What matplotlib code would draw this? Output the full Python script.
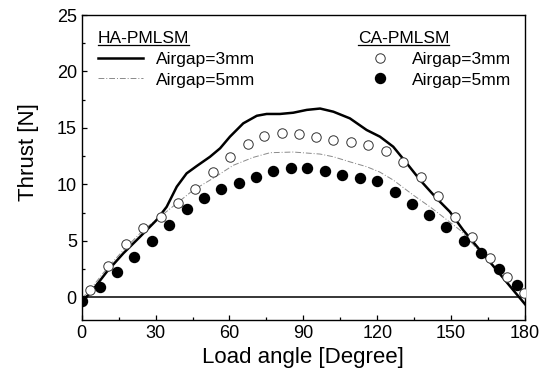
import matplotlib
matplotlib.use('Agg')
import matplotlib.pyplot as plt
from matplotlib.lines import Line2D

plt.rcParams['font.family'] = ['Liberation Sans', 'DejaVu Sans']

# HA-PMLSM, airgap 3 mm (solid line)
ha3_x = [0, 3.4, 10.2, 16.9, 23.7, 30.4, 34.5, 38.6, 42.6, 46.7, 52.1, 56.2, 60.2, 65.6, 71.1,
         75.1, 80.5, 85.9, 91.4, 96.8, 102.2, 108.9, 115.7, 121.1, 126.5, 132.0, 137.4, 144.1,
         149.5, 154.9, 161.7, 168.5, 175.2, 180]
ha3_y = [-0.3, 0.35, 2.27, 3.9, 5.37, 6.85, 8.02, 9.8, 10.98, 11.63, 12.45, 13.2, 14.23, 15.41, 16.08,
         16.24, 16.24, 16.35, 16.6, 16.72, 16.44, 15.85, 14.82, 14.23, 13.34, 11.87, 10.39, 8.77,
         7.58, 5.96, 4.19, 2.42, 0.65, -0.6]

# HA-PMLSM, airgap 5 mm (thin dash-dot)
ha5_x = [0, 3.1, 10, 17, 25, 31.8, 38.6, 45.3, 53.4, 61.6, 69.7, 76.5, 85.9, 96.8, 102.2, 108.9,
         115.7, 121, 126.5, 134.6, 141.4, 147.5, 153.6, 161.7, 168, 174, 180]
ha5_y = [-0.1, 0.6, 2.5, 4.2, 5.96, 7.14, 8.32, 9.5, 10.55, 11.7, 12.4, 12.81, 12.87, 12.69, 12.45, 12.0,
         11.57, 11.1, 10.39, 9.06, 8.02, 7.0, 5.96, 4.04, 2.5, 0.9, -0.5]

# CA-PMLSM, airgap 3 mm (open circles)
ca3_x = [3.4, 10.6, 17.9, 24.8, 32.1, 39.0, 46.0, 53.2, 60.2, 67.4, 74.1, 81.2, 88.2, 95.1,
         102.2, 109.2, 116.4, 123.6, 130.6, 137.6, 144.5, 151.6, 158.6, 165.8, 172.8, 179.6]
ca3_y = [0.65, 2.8, 4.72, 6.11, 7.14, 8.32, 9.57, 11.07, 12.45, 13.55, 14.29, 14.58, 14.46, 14.18,
         13.93, 13.73, 13.46, 12.96, 12.01, 10.68, 8.97, 7.09, 5.31, 3.45, 1.77, 0.4]

# CA-PMLSM, airgap 5 mm (filled circles)
ca5_x = [0, 7.4, 14.5, 21.4, 28.4, 35.4, 42.6, 49.7, 56.7, 63.7, 70.8, 77.8, 84.9, 91.6,
         98.8, 105.8, 113.0, 120.0, 127.2, 134.2, 141.1, 147.9, 155.2, 162.1, 169.4, 176.6]
ca5_y = [-0.3, 0.94, 2.27, 3.6, 4.99, 6.4, 7.79, 8.77, 9.59, 10.15, 10.68, 11.21, 11.48, 11.5,
         11.19, 10.81, 10.59, 10.3, 9.35, 8.26, 7.29, 6.25, 5.01, 3.9, 2.51, 1.09]

fig = plt.figure(figsize=(5.49, 3.83), dpi=100)
ax = fig.add_axes([0.1488, 0.1645, 0.8075, 0.7963])

ax.axhline(0, color='black', lw=1.1, zorder=1)
l1, = ax.plot(ha3_x, ha3_y, color='black', lw=1.8, label='Airgap=3mm', zorder=3)
l2, = ax.plot(ha5_x, ha5_y, color='#8a8a8a', lw=0.7, ls=(0, (6, 2, 1, 2)), label='Airgap=5mm', zorder=2)
m1, = ax.plot(ca3_x, ca3_y, 'o', ms=6.8, mfc='white', mec='#333333', mew=0.7,
              label='Airgap=3mm', zorder=4)
m2, = ax.plot(ca5_x, ca5_y, 'o', ms=7.2, mfc='black', mec='black', label='Airgap=5mm', zorder=5)

ax.set_xlim(0, 180)
ax.set_ylim(-2, 25)
ax.set_xticks(range(0, 181, 30))
ax.set_xticks(range(15, 180, 30), minor=True)
ax.set_yticks(range(0, 26, 5))
ax.set_yticks([2.5, 7.5, 12.5, 17.5, 22.5], minor=True)
ax.tick_params(which='both', direction='in', labelsize=13, width=0.9)
ax.tick_params(which='major', length=3.5)
ax.tick_params(which='minor', length=2.5)
for s in ax.spines.values():
    s.set_linewidth(1.0)

ax.set_xlabel('Load angle [Degree]', fontsize=16, labelpad=4)
ax.set_ylabel('Thrust [N]', fontsize=16)
ax.yaxis.set_label_coords(-0.097, 0.55)

leg1 = ax.legend(handles=[l1, l2], title='HA-PMLSM', loc='upper left',
                 bbox_to_anchor=(0.02, 0.97), frameon=False, fontsize=12.5,
                 title_fontsize=12.5, handlelength=2.6, handletextpad=0.75,
                 labelspacing=0.32, alignment='left', borderaxespad=0)
ax.add_artist(leg1)
leg2 = ax.legend(handles=[m1, m2], title='CA-PMLSM', loc='upper left',
                 bbox_to_anchor=(0.607, 0.97), frameon=False, fontsize=12.5,
                 title_fontsize=12.5, handlelength=2.6, handletextpad=0.5,
                 labelspacing=0.32, alignment='left', borderaxespad=0)

# underline the two legend titles
fig.canvas.draw()
inv = fig.transFigure.inverted()
for leg in (leg1, leg2):
    bb = leg.get_title().get_window_extent()
    (x0, y0), (x1, y1) = inv.transform([(bb.x0, bb.y0), (bb.x1, bb.y1)])
    fig.add_artist(Line2D([x0, x1], [y0 + 0.004, y0 + 0.004], color='black', lw=0.9,
                          transform=fig.transFigure))

fig.savefig('out.png', dpi=100)
